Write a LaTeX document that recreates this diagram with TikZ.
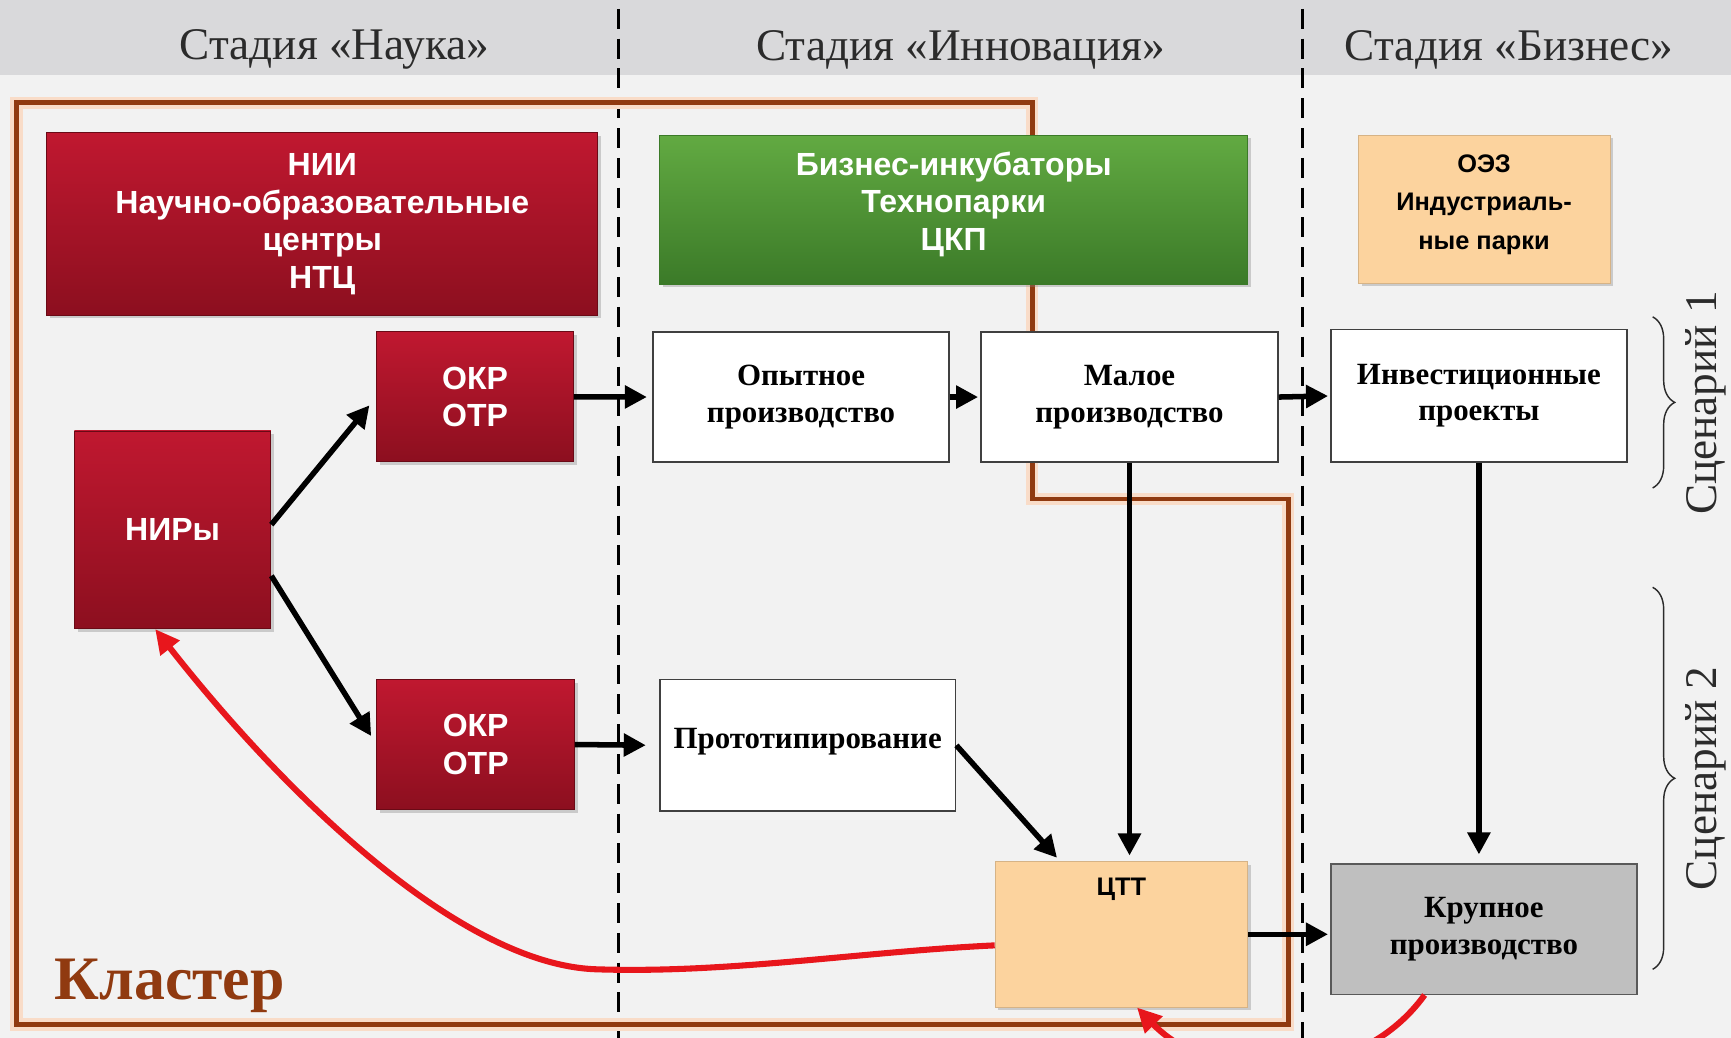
\documentclass[tikz,border=0pt]{standalone}
\usepackage{fontspec}
\setmainfont{Liberation Serif}
\newfontfamily\sansfont{Liberation Sans}
\usetikzlibrary{arrows.meta,shadows,decorations.pathreplacing}
\definecolor{bgc}{HTML}{F2F2F2}
\definecolor{hdrc}{HTML}{D9D9DB}
\definecolor{redT}{HTML}{C01830}
\definecolor{redB}{HTML}{8C0F1F}
\definecolor{redD}{HTML}{6A0A16}
\definecolor{grT}{HTML}{62AA42}
\definecolor{grB}{HTML}{3B7A28}
\definecolor{peach}{HTML}{FCD39E}
\definecolor{clbrown}{HTML}{903A10}
\definecolor{glowc}{HTML}{F9DCC8}
\definecolor{redL}{HTML}{E8161C}
\definecolor{txtgray}{HTML}{2B2B2B}
\definecolor{kpgray}{HTML}{BFBFBF}
\begin{document}
\begin{tikzpicture}[x=1pt,y=-1pt,
  boxbase/.style={inner sep=0pt, anchor=north west, align=center},
  shadowed/.style={drop shadow={opacity=0.35,shadow xshift=3pt,shadow yshift=-3pt}},
  redbox/.style={boxbase, shadowed, draw=redD, line width=0.8pt, top color=redT, bottom color=redB,
    text=white, font=\sansfont\bfseries\fontsize{29}{34}\selectfont},
  greenbox/.style={boxbase, shadowed, draw=grB, line width=0.8pt, top color=grT, bottom color=grB},
  peachbox/.style={boxbase, shadowed, fill=peach, draw=peach!85!black, line width=0.6pt},
  whitebox/.style={boxbase, draw=black!75, line width=1.3pt, fill=white,
    font=\bfseries\fontsize{28}{33}\selectfont},
  greybox/.style={boxbase, draw=black!65, line width=1.3pt, fill=kpgray,
    font=\bfseries\fontsize{28}{34}\selectfont},
  greentext/.style={align=center, text=white, font=\sansfont\bfseries\fontsize{29}{34}\selectfont},
  peachtext/.style={align=center, text=black, font=\sansfont\bfseries\fontsize{23}{35}\selectfont},
  hdrtext/.style={text=txtgray, font=\fontsize{41}{48}\selectfont},
  stagesep/.style={line width=2.5pt, dash pattern=on 18pt off 9pt},
  cluster/.style={line width=4.5pt, draw=clbrown, line join=miter},
  clusterglow/.style={line width=11pt, draw=glowc, line join=miter},
  blackarrow/.style={line width=5pt, -{Triangle[length=20pt,width=20pt]}},
  redarrow/.style={draw=redL, line width=5.5pt, -{Triangle[length=22pt,width=21pt]}},
  bracestyle/.style={draw=txtgray, line width=1.3pt, decorate, decoration={brace, amplitude=20pt}}
]
\useasboundingbox (0,0) rectangle (1568,940);
\clip (0,0) rectangle (1568,940);
\fill[bgc] (0,0) rectangle (1568,940);
\fill[hdrc] (0,0) rectangle (1568,68);

% header labels
\node[hdrtext] (h1) at (303,45) {Стадия «Наука»};
\node[hdrtext] (h2) at (870,45) {Стадия «Инновация»};
\node[hdrtext] (h3) at (1367,45) {Стадия «Бизнес»};

% stage separators
\draw[stagesep] (560,8) -- (560,945);
\draw[stagesep] (1180,8) -- (1180,945);

% cluster outline
\draw[clusterglow] (15,93) -- (935,93) -- (935,452) -- (1167,452) -- (1167,928) -- (15,928) -- cycle;
\draw[cluster] (15,93) -- (935,93) -- (935,452) -- (1167,452) -- (1167,928) -- (15,928) -- cycle;
\node[anchor=base west, text=clbrown, font=\bfseries\fontsize{56}{60}\selectfont] (klaster) at (46,905) {Кластер};

% boxes
\node[redbox, minimum width=499pt, minimum height=165pt] (nii) at (42,120)
  {НИИ\\Научно-образовательные\\центры\\НТЦ};
\node[greenbox, minimum width=533pt, minimum height=135pt,
  label={[greentext, yshift=5pt]center:Бизнес-инкубаторы\\Технопарки\\ЦКП}] (inc) at (597,122) {};
\node[peachbox, minimum width=228pt, minimum height=134pt,
  label={[peachtext, yshift=4pt]center:ОЭЗ\\Индустриаль-\\ные парки}] (oez) at (1230,122) {};
\node[redbox, minimum width=178pt, minimum height=118pt] (okr1) at (341,300) {ОКР\\ОТР};
\node[redbox, minimum width=178pt, minimum height=179pt] (nir) at (67,390) {НИРы};
\node[redbox, minimum width=179pt, minimum height=118pt] (okr2) at (341,615) {ОКР\\ОТР};
\node[whitebox, minimum width=268pt, minimum height=118pt] (opyt) at (591,300) {Опытное\\производство};
\node[whitebox, minimum width=269pt, minimum height=118pt] (mal) at (888,300) {Малое\\производство};
\node[whitebox, minimum width=268pt, minimum height=120pt] (inv) at (1205,298) {Инвестиционные\\проекты};
\node[whitebox, minimum width=268pt, minimum height=119pt, text height=15pt, text depth=10pt] (proto) at (597,615) {Прототипирование};
\node[peachbox, minimum width=229pt, minimum height=132pt,
  label={[anchor=north, yshift=-12pt, font=\sansfont\bfseries\fontsize{23}{26}\selectfont]north:ЦТТ}] (ctt) at (901,780) {};
\node[greybox, minimum width=277pt, minimum height=118pt] (kp) at (1205,782) {Крупное\\производство};

% black arrows
\draw[blackarrow, shorten >=10pt] (nir.3) -- (okr1.west);
\draw[blackarrow, shorten >=9pt] (nir.-25) -- (okr2.west);
\draw[blackarrow, shorten >=5pt] (okr1.east) -- (opyt.west);
\draw[blackarrow, shorten >=2pt] (opyt.east) -- (mal.west);
\draw[blackarrow, shorten >=2pt] (mal.east) -- (inv.west);
\draw[blackarrow, shorten >=12pt] (okr2.east) -- (proto.west);
\draw[blackarrow, shorten >=4pt] (proto.east) -- (ctt.130);
\draw[blackarrow, shorten >=5pt] (mal.south) -- (mal.south |- ctt.north);
\draw[blackarrow, shorten >=8pt] (inv.south) -- (inv.south |- kp.north);
\draw[blackarrow, shorten >=2pt] (ctt.east) -- (ctt.east -| kp.west);

% red feedback arrows
\draw[redarrow] (ctt.185) .. controls (780,862) and (660,882) .. (540,878)
  .. controls (420,874) and (263,726) .. (nir.-100);
\draw[redarrow] (kp.228) .. controls (1230,985) and (1100,985) .. (ctt.282);

% scenario braces
\draw[bracestyle] (1497,287) -- (1497,442);
\draw[bracestyle] (1497,532) -- (1497,878);
\node[hdrtext, rotate=90] (sc1) at (1545,365) {Сценарий 1};
\node[hdrtext, rotate=90] (sc2) at (1545,705) {Сценарий 2};
\end{tikzpicture}
\end{document}
